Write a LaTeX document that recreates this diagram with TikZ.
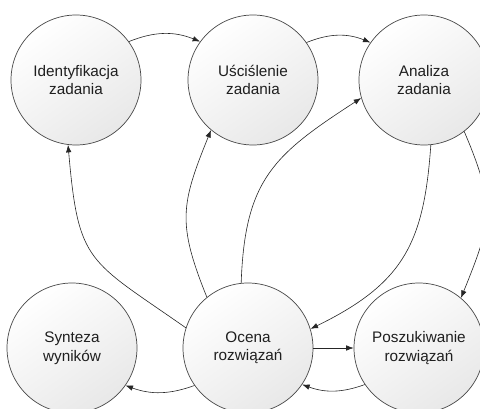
\documentclass[tikz,border=0pt]{standalone}
\usepackage{fontspec}
\setmainfont{Liberation Sans}
\usetikzlibrary{arrows.meta}
\begin{document}
\begin{tikzpicture}[x=1pt,y=1pt,
  stnode/.style={circle, draw=black!72, line width=0.7pt, minimum size=130pt, inner sep=0pt,
    align=center, font=\fontsize{15.3}{18.5}\selectfont, text=black!88,
    top color=white, bottom color=black!9, shading angle=35},
  link/.style={draw=black!85, line width=0.6pt, -{Latex[length=7.5pt,width=5.5pt]}}]
\useasboundingbox (0,0) rectangle (480,408);
\clip (0,0) rectangle (480,408);
\node[stnode] (A) at (76,328) {Identyfikacja\\zadania};
\node[stnode] (B) at (253,328) {Uściślenie\\zadania};
\node[stnode] (C) at (424,328) {Analiza\\zadania};
\node[stnode] (D) at (72,60) {Synteza\\wyników};
\node[stnode] (E) at (248,60) {Ocena\\rozwiązań};
\node[stnode] (F) at (419,60) {Poszukiwanie\\rozwiązań};
\draw[link] (A.36) to[bend left=22] (B.144);
\draw[link] (B.35) to[bend left=22] (C.145);
\draw[link] (E.162) .. controls +(145:120pt) and +(-85:120pt) .. (A.263);
\draw[link] (E.129) .. controls +(112:80pt) and +(-112:80pt) .. (B.230);
\draw[link] (E.96) .. controls +(88:104pt) and +(213:104pt) .. (C.196);
\draw[link] (C.276) .. controls +(266:98pt) and +(26:104pt) .. (E.17);
\draw[link] (C.308) .. controls +(-67:82pt) and +(68:82pt) .. (F.50);
\draw[link] (E) -- (F);
\draw[link] (F.214) to[bend left=20] (E.326);
\draw[link] (E.215) to[bend left=20] (D.325);
\end{tikzpicture}
\end{document}
